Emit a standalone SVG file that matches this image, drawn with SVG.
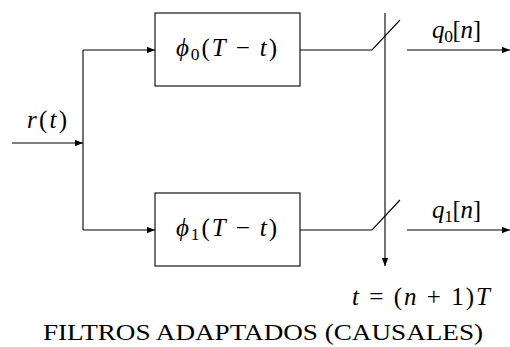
<svg xmlns="http://www.w3.org/2000/svg" width="510" height="347" viewBox="0 0 510 347">
  <style>
    .ln { fill: none; stroke: #000; stroke-width: 1.1; }
    .box { fill: #fff; stroke: #000; stroke-width: 1.1; }
    .m { font-family: "Liberation Serif", "DejaVu Serif", serif; font-size: 25px; fill: #000; }
    .i { font-style: italic; }
    .sub { font-size: 17.5px; }
    .cap { font-family: "Liberation Serif", "DejaVu Serif", serif; font-size: 24px; fill: #000; }
  </style>
  <defs>
    <marker id="arr" viewBox="0 0 10 8" refX="10" refY="4" markerWidth="8" markerHeight="6.4" markerUnits="userSpaceOnUse" orient="auto">
      <path d="M0,0 L10,4 L0,8 Z" fill="#000"/>
    </marker>
  </defs>

  <g id="connectors">
    <!-- input r(t) -->
    <line class="ln" x1="12" y1="143" x2="83" y2="143" marker-end="url(#arr)"/>
    <!-- branch to both filters -->
    <polyline class="ln" points="83,50 83,230"/>
    <line class="ln" x1="83" y1="50" x2="155" y2="50" marker-end="url(#arr)"/>
    <line class="ln" x1="83" y1="230" x2="155" y2="230" marker-end="url(#arr)"/>
    <!-- filter outputs into the samplers -->
    <polyline class="ln" points="300,50 372,50 400,20"/>
    <polyline class="ln" points="300,230 372,230 400,200"/>
    <!-- sampling instant -->
    <line class="ln" x1="385" y1="13" x2="385" y2="266" marker-end="url(#arr)"/>
    <!-- sampled outputs -->
    <line class="ln" x1="407" y1="50" x2="510" y2="50" marker-end="url(#arr)"/>
    <line class="ln" x1="407" y1="230" x2="510" y2="230" marker-end="url(#arr)"/>
  </g>

  <g id="filter0">
    <rect class="box" x="155" y="13" width="145" height="73"/>
    <text class="m" x="176" y="56" textLength="101" lengthAdjust="spacing"><tspan class="i">ϕ</tspan><tspan class="sub" dy="4">0</tspan><tspan dy="-4">(</tspan><tspan class="i">T</tspan> − <tspan class="i">t</tspan>)</text>
  </g>

  <g id="filter1">
    <rect class="box" x="155" y="193" width="145" height="73"/>
    <text class="m" x="176" y="236" textLength="101" lengthAdjust="spacing"><tspan class="i">ϕ</tspan><tspan class="sub" dy="4">1</tspan><tspan dy="-4">(</tspan><tspan class="i">T</tspan> − <tspan class="i">t</tspan>)</text>
  </g>

  <g id="labels">
    <text class="m" x="27" y="128" textLength="40" lengthAdjust="spacing"><tspan class="i">r</tspan>(<tspan class="i">t</tspan>)</text>
    <text class="m" x="432" y="38" textLength="49" lengthAdjust="spacing"><tspan class="i">q</tspan><tspan class="sub" dy="4">0</tspan><tspan dy="-4">[</tspan><tspan class="i">n</tspan>]</text>
    <text class="m" x="432" y="218" textLength="49" lengthAdjust="spacing"><tspan class="i">q</tspan><tspan class="sub" dy="4">1</tspan><tspan dy="-4">[</tspan><tspan class="i">n</tspan>]</text>
    <text class="m" x="352" y="305" textLength="138" lengthAdjust="spacing"><tspan class="i">t</tspan> = (<tspan class="i">n</tspan> + 1)<tspan class="i">T</tspan></text>
    <text class="cap" x="43" y="340" textLength="440" lengthAdjust="spacingAndGlyphs">FILTROS ADAPTADOS (CAUSALES)</text>
  </g>
</svg>
